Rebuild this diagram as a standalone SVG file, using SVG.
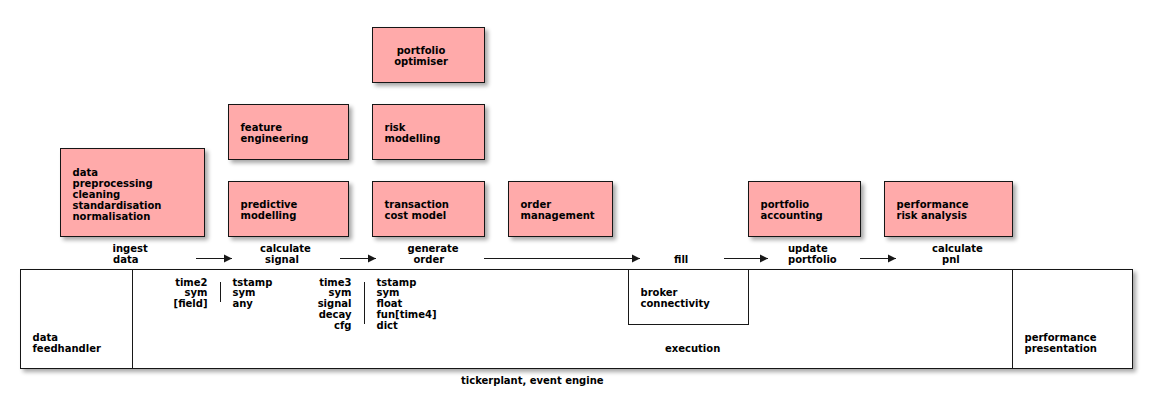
<svg xmlns="http://www.w3.org/2000/svg" width="1152" height="407" viewBox="0 0 1152 407">
<style>
text{font-family:"DejaVu Sans","Liberation Sans",sans-serif;font-size:10px;font-weight:bold;fill:#000}
.box{fill:#FFAAAA;stroke:#181818;stroke-width:1;filter:url(#sh)}
.frame{fill:#FFFFFF;stroke:#181818;stroke-width:1}
.ln{stroke:#181818;stroke-width:1;fill:none}
.r{text-anchor:end}
.m{text-anchor:middle}
</style>
<defs>
<filter id="sh" x="-10%" y="-10%" width="130%" height="140%">
<feGaussianBlur in="SourceAlpha" stdDeviation="2"/>
<feOffset dx="3" dy="3" result="b"/>
<feComponentTransfer><feFuncA type="linear" slope="0.35"/></feComponentTransfer>
<feMerge><feMergeNode/><feMergeNode in="SourceGraphic"/></feMerge>
</filter>
<marker id="ah" markerWidth="9" markerHeight="9" refX="8" refY="4.5" orient="auto" markerUnits="userSpaceOnUse">
<path d="M0,0.5 L8,4.5 L0,8.5 Z" fill="#181818"/>
</marker>
</defs>
<rect width="1152" height="407" fill="#FFFFFF"/>

<g id="engine">
<rect class="frame" x="20.5" y="269.5" width="1112" height="99" style="filter:url(#sh)"/>
<line class="ln" x1="132.5" y1="269.5" x2="132.5" y2="368.5"/>
<line class="ln" x1="1012.5" y1="269.5" x2="1012.5" y2="368.5"/>
<text x="461" y="384">tickerplant, event engine</text>
</g>
<g id="feedhandler">
<text x="32.5" y="341">data</text>
<text x="32.5" y="352">feedhandler</text>
</g>
<g id="execution">
<text x="665" y="352">execution</text>
</g>
<g id="presentation">
<text x="1024.5" y="341">performance</text>
<text x="1024.5" y="352">presentation</text>
</g>
<g id="broker">
<rect class="frame" x="628.5" y="269.5" width="120" height="55"/>
<text x="640.5" y="296">broker</text>
<text x="640.5" y="307">connectivity</text>
</g>
<g id="schema1">
<text class="r" x="207.5" y="285.5">time2</text>
<text class="r" x="207.5" y="296.3">sym</text>
<text class="r" x="207.5" y="307.1">[field]</text>
<line class="ln" x1="220.5" y1="282" x2="220.5" y2="302"/>
<text x="232.5" y="285.5">tstamp</text>
<text x="232.5" y="296.3">sym</text>
<text x="232.5" y="307.1">any</text>
</g>
<g id="schema2">
<text class="r" x="351.5" y="285.5">time3</text>
<text class="r" x="351.5" y="296.3">sym</text>
<text class="r" x="351.5" y="307.1">signal</text>
<text class="r" x="351.5" y="317.9">decay</text>
<text class="r" x="351.5" y="328.7">cfg</text>
<line class="ln" x1="364.5" y1="282" x2="364.5" y2="324"/>
<text x="376.5" y="285.5">tstamp</text>
<text x="376.5" y="296.3">sym</text>
<text x="376.5" y="307.1">float</text>
<text x="376.5" y="317.9">fun[time4]</text>
<text x="376.5" y="328.7">dict</text>
</g>

<g id="data-preprocessing">
<rect class="box" x="60.5" y="148.5" width="144" height="88"/>
<text x="72.5" y="175.5">data</text>
<text x="72.5" y="186.5">preprocessing</text>
<text x="72.5" y="197.5">cleaning</text>
<text x="72.5" y="208.5">standardisation</text>
<text x="72.5" y="219.5">normalisation</text>
</g>
<g id="feature-engineering">
<rect class="box" x="228.5" y="104.5" width="120" height="55"/>
<text x="240.5" y="131">feature</text>
<text x="240.5" y="142">engineering</text>
</g>
<g id="predictive-modelling">
<rect class="box" x="228.5" y="181.5" width="120" height="55"/>
<text x="240.5" y="208">predictive</text>
<text x="240.5" y="219">modelling</text>
</g>
<g id="portfolio-optimiser">
<rect class="box" x="372.5" y="27.5" width="112" height="55"/>
<text class="m" x="421" y="54">portfolio</text>
<text class="m" x="421" y="65">optimiser</text>
</g>
<g id="risk-modelling">
<rect class="box" x="372.5" y="104.5" width="112" height="55"/>
<text x="384.5" y="131">risk</text>
<text x="384.5" y="142">modelling</text>
</g>
<g id="transaction-cost-model">
<rect class="box" x="372.5" y="181.5" width="112" height="55"/>
<text x="384.5" y="208">transaction</text>
<text x="384.5" y="219">cost model</text>
</g>
<g id="order-management">
<rect class="box" x="508.5" y="181.5" width="104" height="55"/>
<text x="520.5" y="208">order</text>
<text x="520.5" y="219">management</text>
</g>
<g id="portfolio-accounting">
<rect class="box" x="748.5" y="181.5" width="112" height="55"/>
<text x="760.5" y="208">portfolio</text>
<text x="760.5" y="219">accounting</text>
</g>
<g id="performance-risk-analysis">
<rect class="box" x="884.5" y="181.5" width="128" height="55"/>
<text x="896.5" y="208">performance</text>
<text x="896.5" y="219">risk analysis</text>
</g>

<g id="stage-ingest"><text x="112.5" y="252">ingest</text><text x="113" y="263">data</text></g>
<g id="stage-signal"><text x="260" y="252">calculate</text><text x="265" y="263">signal</text></g>
<g id="stage-order"><text x="407.5" y="252">generate</text><text x="413.5" y="263">order</text></g>
<g id="stage-fill"><text x="674" y="263">fill</text></g>
<g id="stage-portfolio"><text x="788" y="252">update</text><text x="788" y="263">portfolio</text></g>
<g id="stage-pnl"><text x="932" y="252">calculate</text><text x="942" y="263">pnl</text></g>

<g id="connectors">
<line class="ln" x1="196" y1="258.5" x2="232" y2="258.5" marker-end="url(#ah)"/>
<line class="ln" x1="340" y1="258.5" x2="376" y2="258.5" marker-end="url(#ah)"/>
<line class="ln" x1="484" y1="258.5" x2="640" y2="258.5" marker-end="url(#ah)"/>
<line class="ln" x1="724" y1="258.5" x2="768" y2="258.5" marker-end="url(#ah)"/>
<line class="ln" x1="860" y1="258.5" x2="896" y2="258.5" marker-end="url(#ah)"/>
</g>
</svg>
